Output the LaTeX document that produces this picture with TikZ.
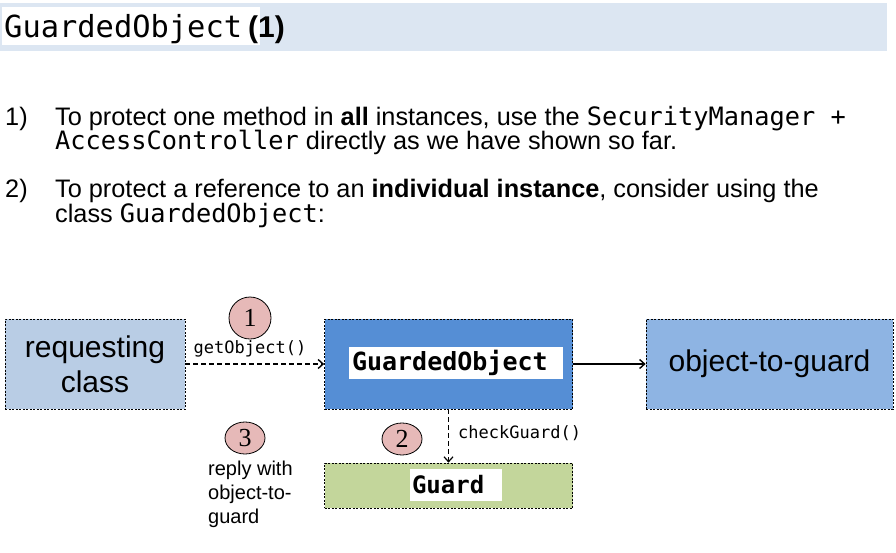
\documentclass[tikz,border=0pt]{standalone}
\usepackage{fontspec}
\setmainfont{Liberation Sans}
\setmonofont{DejaVu Sans Mono}
\newfontfamily\digitfont{Liberation Serif}
\usetikzlibrary{shapes.geometric, arrows.meta}

\definecolor{barblue}{HTML}{DCE6F2}
\definecolor{reqblue}{HTML}{B9CDE5}
\definecolor{objblue}{HTML}{558ED5}
\definecolor{targetblue}{HTML}{8EB4E3}
\definecolor{guardgreen}{HTML}{C3D69B}
\definecolor{badgered}{HTML}{E6B9B8}

\tikzset{
  >={Straight Barb[length = 5pt, width = 9pt]},
  item/.style = {anchor = base west, inner sep = 0, font = \fontsize{25.3}{24}\selectfont},
  box/.style = {draw, dash pattern = on 2pt off 1.5pt, line width = 0.7pt, inner sep = 0},
  bigtext/.style = {align = center, font = \fontsize{30}{35}\selectfont},
  namebox/.style = {fill = white, inner xsep = 3pt, inner ysep = 0, align = left},
  call/.style = {anchor = base, inner sep = 0, font = \ttfamily\fontsize{17}{17}\selectfont},
  badge/.style = {ellipse, draw, fill = badgered, line width = 0.8pt, inner sep = 0, font = \digitfont\fontsize{26}{26}\selectfont},
  flow/.style = {->, line width = 1.4pt, dash pattern = on 5pt off 3pt}
}

\begin{document}
\begin{tikzpicture}[x = 1pt, y = -1pt]
\useasboundingbox (0, 0) rectangle (896, 552);

\fill [barblue] (0, 3) rectangle (887, 51);
\fill [white] (2, 7) rectangle (260, 45);
\node (title) [anchor = base west, inner sep = 0, font = \ttfamily\fontsize{30.4}{30}\selectfont] at (4, 37) {GuardedObject};
\node (titlenum) [anchor = base west, inner sep = 0, font = \bfseries\fontsize{30}{30}\selectfont] at (248, 37) {(1)};

\node (num1) [item] at (5, 125) {1)};
\node (line1a) [item] at (55, 125) {To protect one method in \textbf{all} instances, use the \texttt{SecurityManager +}};
\node (line1b) [item] at (55, 149) {\texttt{AccessController} directly as we have shown so far.};
\node (num2) [item] at (5, 197) {2)};
\node (line2a) [item] at (55, 197) {To protect a reference to an \textbf{individual instance}, consider using the};
\node (line2b) [item] at (55, 222) {class \texttt{GuardedObject}:};

\node (requester) [box, bigtext, fill = reqblue, minimum width = 180pt, minimum height = 90pt] at (95, 364) {requesting\\class};
\node (guarded) [box, fill = objblue, minimum width = 248pt, minimum height = 90pt] at (448.5, 364) {};
\node (target) [box, bigtext, fill = targetblue, minimum width = 247pt, minimum height = 90pt] at (769.5, 364) {object-to-guard};
\node (guard) [box, fill = guardgreen, minimum width = 248pt, minimum height = 45pt] at (448.5, 485.5) {};

\node (guardedname) [namebox, text width = 208pt, minimum height = 32pt, font = \ttfamily\bfseries\fontsize{25}{25}\selectfont] at (456, 363) {GuardedObject};
\node (guardname) [namebox, inner xsep = 2pt, text width = 88pt, minimum height = 32pt, font = \ttfamily\bfseries\fontsize{24}{24}\selectfont] at (456, 485) {Guard};

\draw [flow] (requester) -- (guarded);
\draw [->, line width = 1.4pt] (guarded) -- (target);
\draw [flow, line width = 1.2pt] (guarded) -- (guard);

\node (getlabel) [call] at (250, 353) {getObject()};
\node (checklabel) [call, anchor = base west] at (458, 438) {checkGuard()};

\node (step1) [badge, minimum width = 42pt, minimum height = 42pt] at (250, 318) {1};
\node (step2) [badge, minimum width = 40pt, minimum height = 32pt] at (402, 439) {2};
\node (step3) [badge, minimum width = 40pt, minimum height = 32pt] at (245, 438) {3};

\node (reply) [anchor = north west, inner sep = 0, align = left, font = \fontsize{20}{24}\selectfont] at (208, 461) {reply with\\object-to-\\guard};
\end{tikzpicture}
\end{document}
